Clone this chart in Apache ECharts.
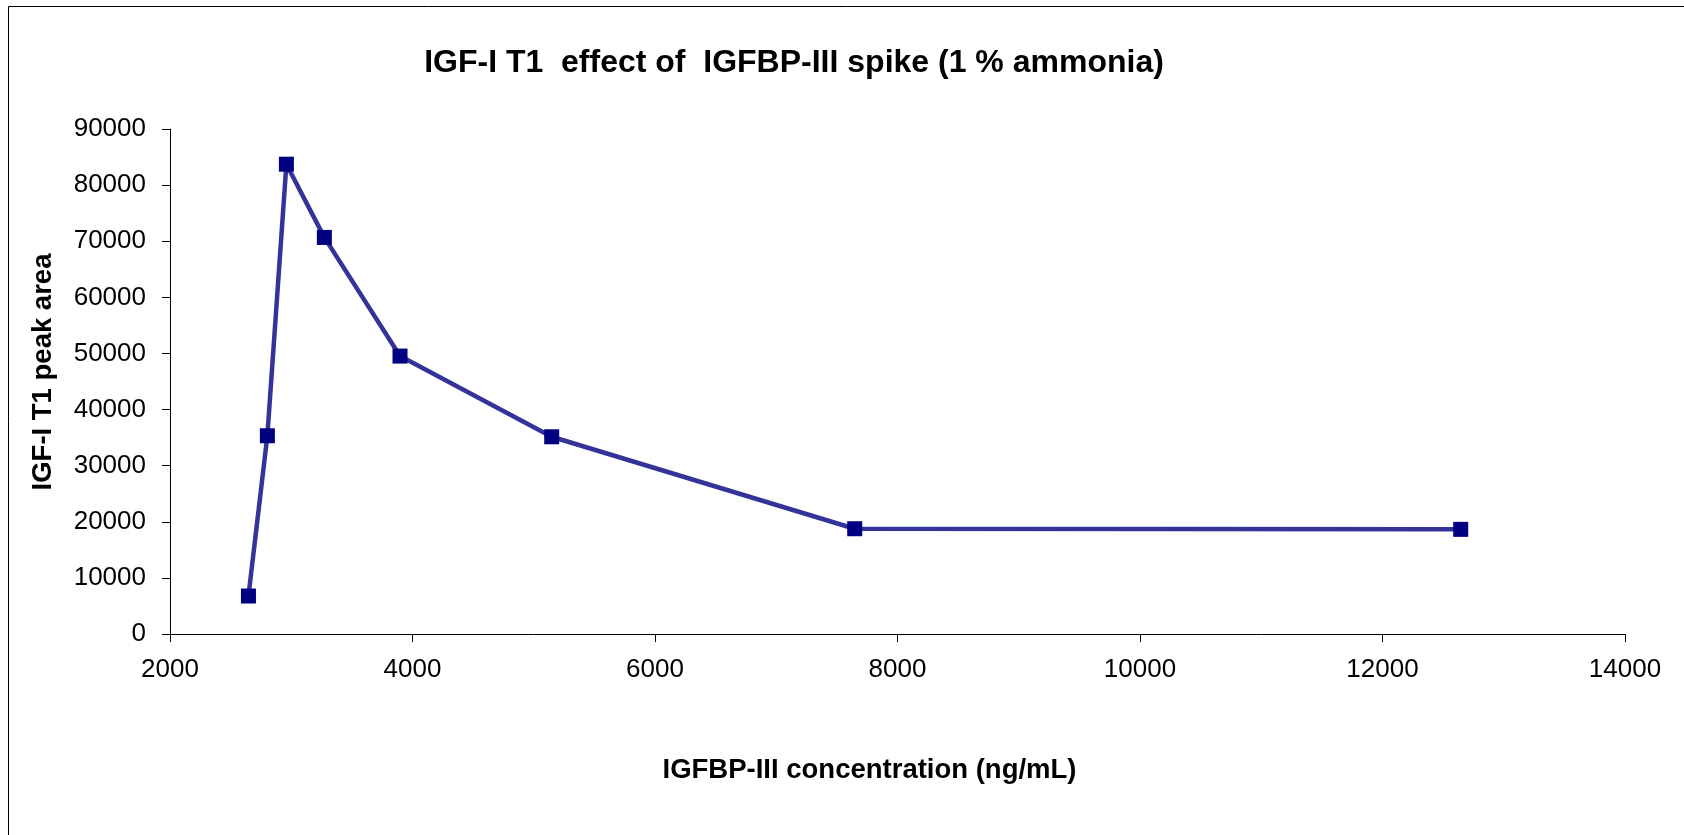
<!DOCTYPE html>
<html>
<head>
<meta charset="utf-8">
<script src="https://cdn.jsdelivr.net/npm/echarts@6/dist/echarts.min.js"></script>
<style>
html,body{margin:0;padding:0;background:#fff;}
#chart{width:1684px;height:835px;}
</style>
</head>
<body>
<div id="chart"></div>
<script>
// Data
var concentration = [2647, 2803, 2960, 3273, 3897, 5148, 7647, 12645];
var peakArea = [6770, 35330, 83730, 70680, 49530, 35150, 18760, 18650];
var xTicks = [2000, 4000, 6000, 8000, 10000, 12000, 14000];
var yTicks = [0, 10000, 20000, 30000, 40000, 50000, 60000, 70000, 80000, 90000];
var chartTitle = 'IGF-I T1  effect of  IGFBP-III spike (1 % ammonia)';
var xTitle = 'IGFBP-III concentration (ng/mL)';
var yTitle = 'IGF-I T1 peak area';

var FONT = "'Liberation Sans', Arial, sans-serif";
var points = concentration.map(function (x, i) { return [x, peakArea[i]]; });
function plain(v) { return String(v); }

var chart = echarts.init(document.getElementById('chart'), null, {renderer: 'canvas'});
chart.setOption({
  backgroundColor: '#ffffff',
  animation: false,
  title: {
    text: chartTitle,
    left: 789,
    textAlign: 'center',
    top: 42,
    textStyle: {fontFamily: FONT, fontWeight: 'bold', fontSize: 32, color: '#000'}
  },
  graphic: [{
    type: 'rect',
    shape: {x: 8.5, y: 6.5, width: 1700, height: 900},
    style: {fill: 'none', stroke: '#000', lineWidth: 1},
    silent: true
  }],
  grid: {left: 170, right: 59, top: 129, bottom: 201, containLabel: false},
  xAxis: {
    type: 'value',
    min: xTicks[0],
    max: xTicks[xTicks.length - 1],
    interval: 2000,
    name: xTitle,
    nameLocation: 'middle',
    nameGap: 122,
    nameTextStyle: {fontFamily: FONT, fontWeight: 'bold', fontSize: 27.5, color: '#000', padding: [0, 56, 0, 0]},
    axisLine: {show: true, onZero: false, lineStyle: {color: '#000', width: 1}},
    axisTick: {show: true, inside: false, length: 8, lineStyle: {color: '#000'}},
    axisLabel: {fontFamily: FONT, fontSize: 26, color: '#000', margin: 23, formatter: plain},
    splitLine: {show: false}
  },
  yAxis: {
    type: 'value',
    min: yTicks[0],
    max: yTicks[yTicks.length - 1],
    interval: 10000,
    name: yTitle,
    nameLocation: 'middle',
    nameRotate: 90,
    nameGap: 113,
    nameTextStyle: {fontFamily: FONT, fontWeight: 'bold', fontSize: 27.5, color: '#000', padding: [0, 0, 0, 19]},
    axisLine: {show: true, lineStyle: {color: '#000', width: 1}},
    axisTick: {show: true, inside: false, length: 8, lineStyle: {color: '#000'}},
    axisLabel: {fontFamily: FONT, fontSize: 26, color: '#000', margin: 24, formatter: plain},
    splitLine: {show: false}
  },
  series: [{
    type: 'line',
    data: points,
    symbol: 'rect',
    symbolSize: 15,
    itemStyle: {color: '#000080', borderWidth: 0},
    lineStyle: {color: '#333399', width: 4.5},
    z: 3
  }]
});
</script>
</body>
</html>
